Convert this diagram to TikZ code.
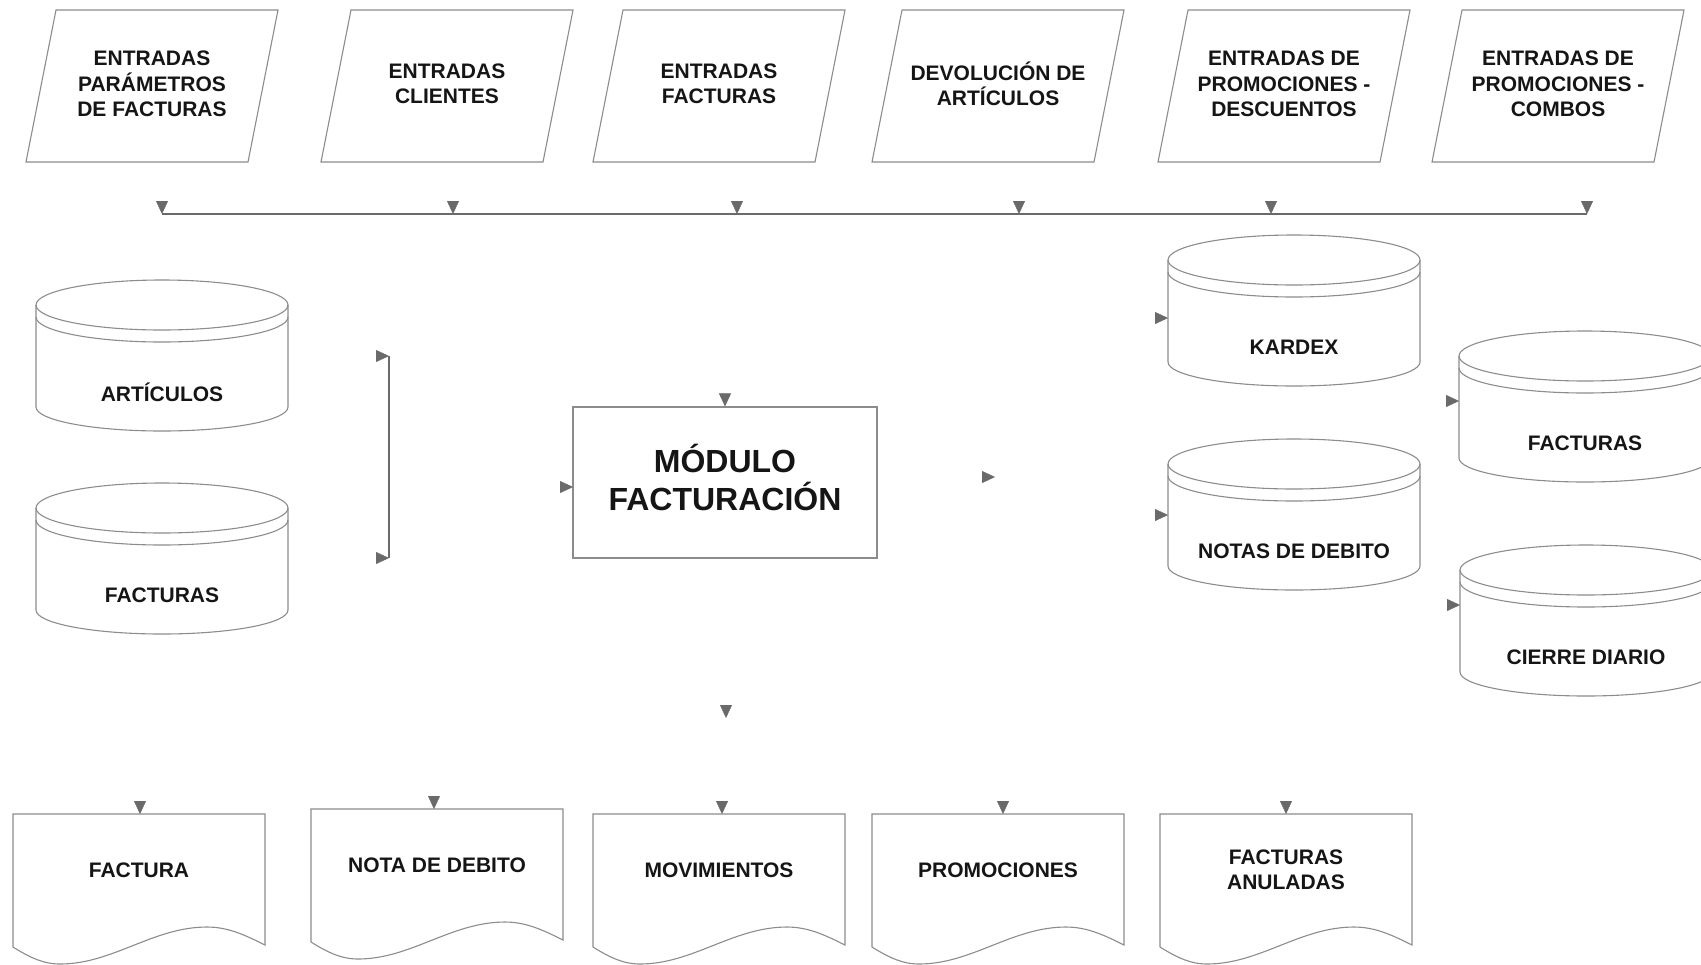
\documentclass[tikz,border=0pt]{standalone}
\usepackage{fontspec}
\setmainfont{Liberation Sans}
\usetikzlibrary{arrows.meta,calc}
\definecolor{shapegray}{HTML}{8C8C8C}
\definecolor{conngray}{HTML}{6A6A6A}
\definecolor{txt}{HTML}{151515}

\newcommand{\inparal}[3]{% name, cx, text
  \draw[shapeline] (#2-126,162) -- (#2+96,162) -- (#2+126,10) -- (#2-96,10) -- cycle;
  \node[lbl] (#1) at (#2,84) {#3};}
\newcommand{\dbcyl}[4]{% name, cx, top, text
  \draw[shapeline] (#2-126,#3+25) -- (#2-126,#3+127)
     arc[start angle=180,end angle=360,x radius=63pt,y radius=12pt] -- (#2+126,#3+25);
  \draw[shapeline] (#2,#3+25) ellipse[x radius=63pt,y radius=12.5pt];
  \draw[shapeline] (#2-126,#3+37) arc[start angle=180,end angle=360,x radius=63pt,y radius=12.5pt];
  \node[lbl] (#1) at (#2,#3+112) {#4};}
\newcommand{\outdoc}[4]{% name, left, top, text
  \draw[shapeline] (#2,#3+133) -- (#2,#3) -- (#2+252,#3) -- (#2+252,#3+131)
     .. controls (#2+232,#3+121) and (#2+215,#3+113) .. (#2+194,#3+113)
     .. controls (#2+140,#3+113) and (#2+100,#3+150) .. (#2+47,#3+150)
     .. controls (#2+30,#3+150) and (#2+16,#3+143) .. (#2,#3+133);
  \node[lbl] (#1) at (#2+126,#3+56) {#4};}

\begin{document}
\begin{tikzpicture}[x=0.5pt,y=-0.5pt,
  shapeline/.style={draw=shapegray, line width=0.55pt},
  conn/.style={draw=conngray, line width=0.8pt},
  tipa/.style={-{Triangle[length=6.5pt,width=6pt]}, draw=conngray, fill=conngray, line width=0.2pt},
  lbl/.style={font=\bfseries\fontsize{10.5}{12.75}\selectfont, align=center, text=txt, inner sep=0pt},
  bigl/.style={font=\bfseries\fontsize{16}{19}\selectfont, align=center, text=txt, inner sep=0pt},
]
\useasboundingbox (0,0) rectangle (1701,964);

% ---- input parallelograms
\inparal{p1}{152}{ENTRADAS\\PARÁMETROS\\DE FACTURAS}
\inparal{p2}{447}{ENTRADAS\\CLIENTES}
\inparal{p3}{719}{ENTRADAS\\FACTURAS}
\inparal{p4}{998}{DEVOLUCIÓN DE\\ARTÍCULOS}
\inparal{p5}{1284}{ENTRADAS DE\\PROMOCIONES -\\DESCUENTOS}
\inparal{p6}{1558}{ENTRADAS DE\\PROMOCIONES -\\COMBOS}

% ---- bus
\coordinate (bus1) at (162,214);
\coordinate (bus2) at (453,214);
\coordinate (bus3) at (737,214);
\coordinate (bus4) at (1019,214);
\coordinate (bus5) at (1271,214);
\coordinate (bus6) at (1587,214);
\draw[conn] (bus1) -- (bus6);
\foreach \i in {1,...,6}{
  \draw[tipa] ($(bus\i)+(0,-13)$) -- (bus\i);
}

% ---- data stores left
\dbcyl{art}{162}{280}{ARTÍCULOS}
\dbcyl{facl}{162}{483}{FACTURAS}

% bracket
\coordinate (brt) at (389,356);
\coordinate (brb) at (389,558);
\coordinate (brt0) at (376,356);
\coordinate (brb0) at (376,558);
\draw[conn] (brt) -- (brb);
\draw[tipa] (brt0) -- (brt);
\draw[tipa] (brb0) -- (brb);

% ---- module
\node[draw=shapegray, line width=0.55pt, minimum width=152pt, minimum height=75.5pt] (mod) at (725,482.5) {};
\node[bigl] (modtxt) at (725,477) {MÓDULO\\FACTURACIÓN};
\coordinate (modtop0) at (725,394);
\coordinate (modleft0) at (560,487);
\coordinate (modleft) at (573,487);
\draw[tipa] (modtop0) -- (mod.north);
\draw[tipa] (modleft0) -- (modleft);
\coordinate (rfree0) at (982,477);
\coordinate (rfree) at (995,477);
\draw[tipa] (rfree0) -- (rfree);
\coordinate (dfree0) at (726,705);
\coordinate (dfree) at (726,718);
\draw[tipa] (dfree0) -- (dfree);

% ---- data stores right
\dbcyl{kar}{1294}{235}{KARDEX}
\dbcyl{nd}{1294}{439}{NOTAS DE DEBITO}
\dbcyl{facr}{1585}{331}{FACTURAS}
\dbcyl{cie}{1586}{545}{CIERRE DIARIO}
\coordinate (karin) at (1168,318);
\coordinate (ndin) at (1168,515);
\coordinate (facrin) at (1459,401);
\coordinate (ciein) at (1460,605);
\foreach \c in {karin,ndin,facrin,ciein}{
  \draw[tipa] ($(\c)+(-13,0)$) -- (\c);
}

% ---- output documents
\outdoc{d1}{13}{814}{FACTURA}
\outdoc{d2}{311}{809}{NOTA DE DEBITO}
\outdoc{d3}{593}{814}{MOVIMIENTOS}
\outdoc{d4}{872}{814}{PROMOCIONES}
\outdoc{d5}{1160}{814}{FACTURAS\\ANULADAS}
\coordinate (d1in) at (140,814);
\coordinate (d2in) at (434,809);
\coordinate (d3in) at (722,814);
\coordinate (d4in) at (1003,814);
\coordinate (d5in) at (1286,814);
\foreach \c in {d1in,d2in,d3in,d4in,d5in}{
  \draw[tipa] ($(\c)+(0,-13)$) -- (\c);
}
\end{tikzpicture}
\end{document}
